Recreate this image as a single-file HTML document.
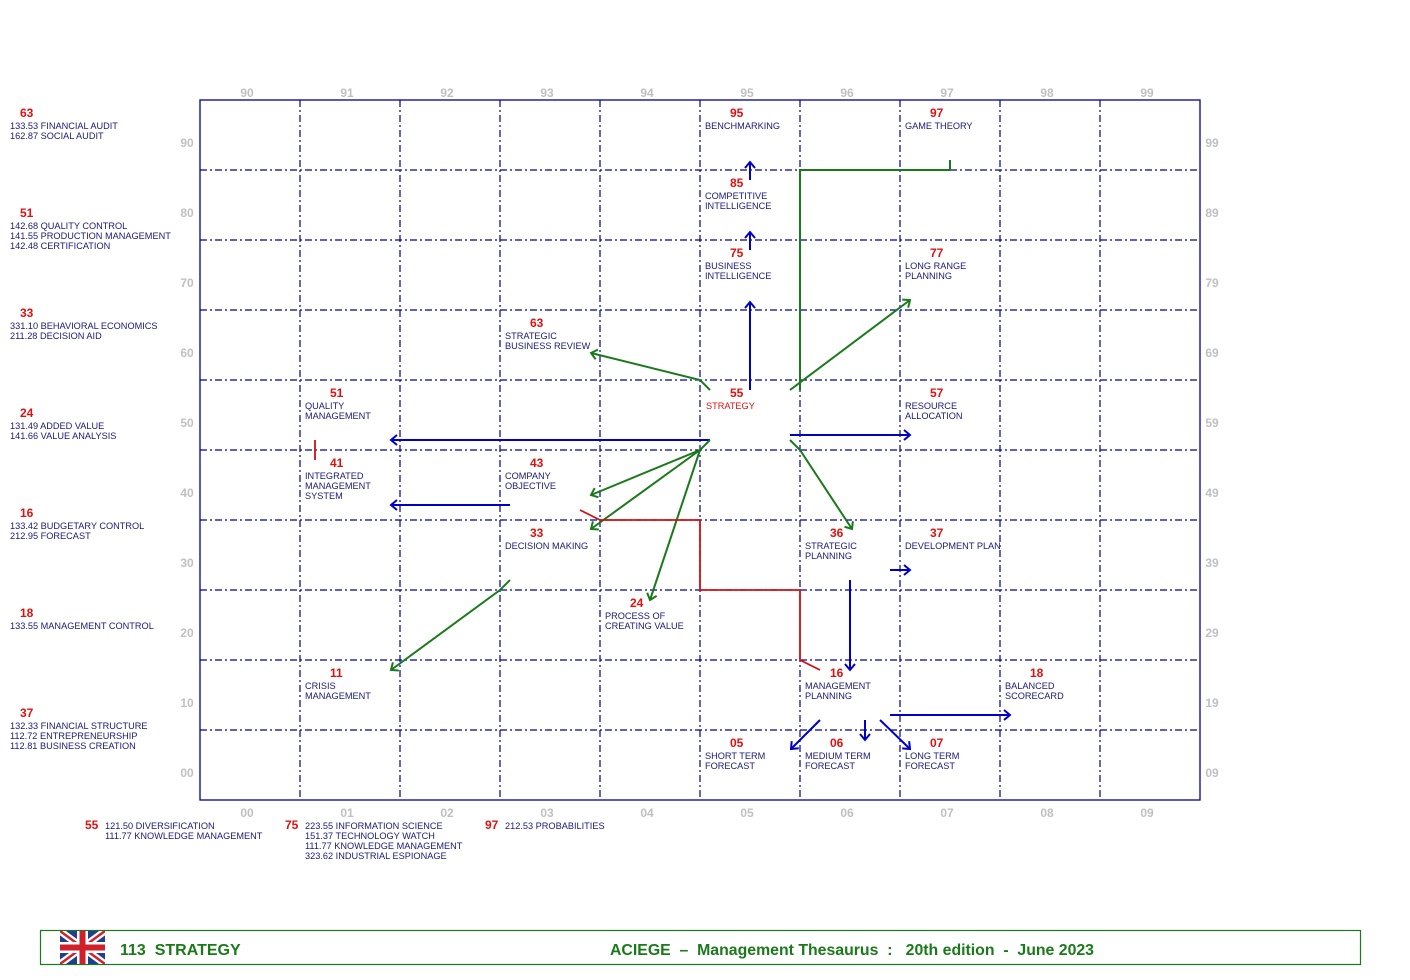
<!DOCTYPE html>
<html><head><meta charset="utf-8"><style>
html,body{margin:0;padding:0;background:#fff;}
svg{display:block;font-family:"Liberation Sans",Arial,sans-serif;}
.n{fill:#e01010;font-size:12px;font-weight:bold;}
.l{fill:#1a1a7a;font-size:9.2px;}
.ax{fill:#c0c0c0;font-size:12px;font-weight:bold;}
.g{fill:none;stroke:#00009a;stroke-width:1.2;stroke-dasharray:7,3,2,3;}
.b{fill:none;stroke:#0000c8;stroke-width:2;}
.gr{fill:none;stroke:#1a7a1a;stroke-width:2;}
.r{fill:none;stroke:#d01010;stroke-width:1.8;}
</style></head><body>
<svg width="1410" height="980" viewBox="0 0 1410 980">
<defs>
<marker id="ab" markerWidth="12" markerHeight="12" refX="10" refY="6" orient="auto" markerUnits="userSpaceOnUse"><path d="M4,1 L10,6 L4,11" fill="none" stroke="#0000c8" stroke-width="2"/></marker>
<marker id="ag" markerWidth="12" markerHeight="12" refX="10" refY="6" orient="auto" markerUnits="userSpaceOnUse"><path d="M4,1 L10,6 L4,11" fill="none" stroke="#1a7a1a" stroke-width="2"/></marker>
</defs>
<g>
<path class="g" d="M300,100V800M400,100V800M500,100V800M600,100V800M700,100V800M800,100V800M900,100V800M1000,100V800M1100,100V800"/>
<path class="g" d="M200,170H1200M200,240H1200M200,310H1200M200,380H1200M200,450H1200M200,520H1200M200,590H1200M200,660H1200M200,730H1200"/>
<rect x="200" y="100" width="1000" height="700" fill="none" stroke="#00009a" stroke-width="1.3"/>
</g>
<g class="ax" text-anchor="middle">
<text x="247" y="97">90</text><text x="347" y="97">91</text><text x="447" y="97">92</text><text x="547" y="97">93</text><text x="647" y="97">94</text><text x="747" y="97">95</text><text x="847" y="97">96</text><text x="947" y="97">97</text><text x="1047" y="97">98</text><text x="1147" y="97">99</text>
<text x="247" y="817">00</text><text x="347" y="817">01</text><text x="447" y="817">02</text><text x="547" y="817">03</text><text x="647" y="817">04</text><text x="747" y="817">05</text><text x="847" y="817">06</text><text x="947" y="817">07</text><text x="1047" y="817">08</text><text x="1147" y="817">09</text>
<text x="187" y="147">90</text><text x="187" y="217">80</text><text x="187" y="287">70</text><text x="187" y="357">60</text><text x="187" y="427">50</text><text x="187" y="497">40</text><text x="187" y="567">30</text><text x="187" y="637">20</text><text x="187" y="707">10</text><text x="187" y="777">00</text>
<text x="1212" y="147">99</text><text x="1212" y="217">89</text><text x="1212" y="287">79</text><text x="1212" y="357">69</text><text x="1212" y="427">59</text><text x="1212" y="497">49</text><text x="1212" y="567">39</text><text x="1212" y="637">29</text><text x="1212" y="707">19</text><text x="1212" y="777">09</text>
</g>
<g>
<path class="b" d="M750,390V302" marker-end="url(#ab)"/>
<path class="b" d="M750,250V232" marker-end="url(#ab)"/>
<path class="b" d="M750,180V162" marker-end="url(#ab)"/>
<path class="gr" d="M800,390V170H950V160"/>
<path class="gr" d="M790,390L910,300" marker-end="url(#ag)"/>
<path class="gr" d="M710,390L700,380L591,353" marker-end="url(#ag)"/>
<path class="b" d="M710,440H391" marker-end="url(#ab)"/>
<path class="b" d="M790,435H910" marker-end="url(#ab)"/>
<path class="gr" d="M710,440L700,450L591,495" marker-end="url(#ag)"/>
<path class="gr" d="M700,450L591,529" marker-end="url(#ag)"/>
<path class="gr" d="M700,450L650,600" marker-end="url(#ag)"/>
<path class="gr" d="M790,440L800,450L852,529" marker-end="url(#ag)"/>
<path class="b" d="M510,505H391" marker-end="url(#ab)"/>
<path class="r" d="M315,440V460"/>
<path class="r" d="M580,510L600,520H700V590H800V660L820,670"/>
<path class="gr" d="M510,580L500,590L391,670" marker-end="url(#ag)"/>
<path class="b" d="M890,570H910" marker-end="url(#ab)"/>
<path class="b" d="M850,580V670" marker-end="url(#ab)"/>
<path class="b" d="M820,720L791,749" marker-end="url(#ab)"/>
<path class="b" d="M865,720V740" marker-end="url(#ab)"/>
<path class="b" d="M880,720L910,749" marker-end="url(#ab)"/>
<path class="b" d="M890,715H1010" marker-end="url(#ab)"/>
</g>
<g>
<text class="n" x="730" y="117">95</text><text class="l" x="705" y="129">BENCHMARKING</text>
<text class="n" x="930" y="117">97</text><text class="l" x="905" y="129">GAME THEORY</text>
<text class="n" x="730" y="187">85</text><text class="l" x="705" y="199">COMPETITIVE</text><text class="l" x="705" y="209">INTELLIGENCE</text>
<text class="n" x="730" y="257">75</text><text class="l" x="705" y="269">BUSINESS</text><text class="l" x="705" y="279">INTELLIGENCE</text>
<text class="n" x="930" y="257">77</text><text class="l" x="905" y="269">LONG RANGE</text><text class="l" x="905" y="279">PLANNING</text>
<text class="n" x="530" y="327">63</text><text class="l" x="505" y="339">STRATEGIC</text><text class="l" x="505" y="349">BUSINESS REVIEW</text>
<text class="n" x="730" y="397">55</text><text class="l" x="706" y="409" style="fill:#e01010">STRATEGY</text>
<text class="n" x="330" y="397">51</text><text class="l" x="305" y="409">QUALITY</text><text class="l" x="305" y="419">MANAGEMENT</text>
<text class="n" x="930" y="397">57</text><text class="l" x="905" y="409">RESOURCE</text><text class="l" x="905" y="419">ALLOCATION</text>
<text class="n" x="330" y="467">41</text><text class="l" x="305" y="479">INTEGRATED</text><text class="l" x="305" y="489">MANAGEMENT</text><text class="l" x="305" y="499">SYSTEM</text>
<text class="n" x="530" y="467">43</text><text class="l" x="505" y="479">COMPANY</text><text class="l" x="505" y="489">OBJECTIVE</text>
<text class="n" x="530" y="537">33</text><text class="l" x="505" y="549">DECISION MAKING</text>
<text class="n" x="830" y="537">36</text><text class="l" x="805" y="549">STRATEGIC</text><text class="l" x="805" y="559">PLANNING</text>
<text class="n" x="930" y="537">37</text><text class="l" x="905" y="549">DEVELOPMENT PLAN</text>
<text class="n" x="630" y="607">24</text><text class="l" x="605" y="619">PROCESS OF</text><text class="l" x="605" y="629">CREATING VALUE</text>
<text class="n" x="330" y="677">11</text><text class="l" x="305" y="689">CRISIS</text><text class="l" x="305" y="699">MANAGEMENT</text>
<text class="n" x="830" y="677">16</text><text class="l" x="805" y="689">MANAGEMENT</text><text class="l" x="805" y="699">PLANNING</text>
<text class="n" x="1030" y="677">18</text><text class="l" x="1005" y="689">BALANCED</text><text class="l" x="1005" y="699">SCORECARD</text>
<text class="n" x="730" y="747">05</text><text class="l" x="705" y="759">SHORT TERM</text><text class="l" x="705" y="769">FORECAST</text>
<text class="n" x="830" y="747">06</text><text class="l" x="805" y="759">MEDIUM TERM</text><text class="l" x="805" y="769">FORECAST</text>
<text class="n" x="930" y="747">07</text><text class="l" x="905" y="759">LONG TERM</text><text class="l" x="905" y="769">FORECAST</text>
</g>
<g>
<text class="n" x="20" y="117">63</text><text class="l" x="10" y="129">133.53 FINANCIAL AUDIT</text><text class="l" x="10" y="139">162.87 SOCIAL AUDIT</text>
<text class="n" x="20" y="217">51</text><text class="l" x="10" y="229">142.68 QUALITY CONTROL</text><text class="l" x="10" y="239">141.55 PRODUCTION MANAGEMENT</text><text class="l" x="10" y="249">142.48 CERTIFICATION</text>
<text class="n" x="20" y="317">33</text><text class="l" x="10" y="329">331.10 BEHAVIORAL ECONOMICS</text><text class="l" x="10" y="339">211.28 DECISION AID</text>
<text class="n" x="20" y="417">24</text><text class="l" x="10" y="429">131.49 ADDED VALUE</text><text class="l" x="10" y="439">141.66 VALUE ANALYSIS</text>
<text class="n" x="20" y="517">16</text><text class="l" x="10" y="529">133.42 BUDGETARY CONTROL</text><text class="l" x="10" y="539">212.95 FORECAST</text>
<text class="n" x="20" y="617">18</text><text class="l" x="10" y="629">133.55 MANAGEMENT CONTROL</text>
<text class="n" x="20" y="717">37</text><text class="l" x="10" y="729">132.33 FINANCIAL STRUCTURE</text><text class="l" x="10" y="739">112.72 ENTREPRENEURSHIP</text><text class="l" x="10" y="749">112.81 BUSINESS CREATION</text>
</g>
<g>
<text class="n" x="85" y="829">55</text><text class="l" x="105" y="829">121.50 DIVERSIFICATION</text><text class="l" x="105" y="839">111.77 KNOWLEDGE MANAGEMENT</text>
<text class="n" x="285" y="829">75</text><text class="l" x="305" y="829">223.55 INFORMATION SCIENCE</text><text class="l" x="305" y="839">151.37 TECHNOLOGY WATCH</text><text class="l" x="305" y="849">111.77 KNOWLEDGE MANAGEMENT</text><text class="l" x="305" y="859">323.62 INDUSTRIAL ESPIONAGE</text>
<text class="n" x="485" y="829">97</text><text class="l" x="505" y="829">212.53 PROBABILITIES</text>
</g>
<rect x="40.5" y="930.5" width="1320" height="34" fill="none" stroke="#1a7a1a" stroke-width="1.2"/>
<g>
<clipPath id="fc"><rect x="60" y="931" width="45" height="33"/></clipPath>
<g clip-path="url(#fc)">
<rect x="60" y="931" width="45" height="33" fill="#1f3f8f"/>
<path d="M60,931L105,964M105,931L60,964" stroke="#fff" stroke-width="7"/>
<path d="M60,931L105,964M105,931L60,964" stroke="#d0202a" stroke-width="2.5"/>
<path d="M82.5,931V964M60,947.5H105" stroke="#fff" stroke-width="11"/>
<path d="M82.5,931V964M60,947.5H105" stroke="#d0202a" stroke-width="6"/>
</g>
</g>
<text x="120" y="955" fill="#1a7a1a" font-size="16" font-weight="bold" xml:space="preserve">113  STRATEGY</text>
<text x="610" y="955" fill="#1a7a1a" font-size="16" font-weight="bold" xml:space="preserve" textLength="484" lengthAdjust="spacingAndGlyphs">ACIEGE  –  Management Thesaurus  :   20th edition  -  June 2023</text>
</svg>
</body></html>
